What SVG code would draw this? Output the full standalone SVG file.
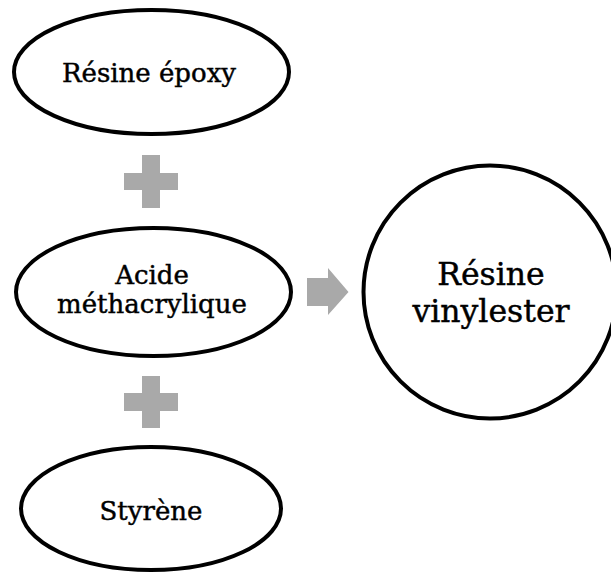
<svg xmlns="http://www.w3.org/2000/svg" width="611" height="575" viewBox="0 0 611 575">
<style>
.node{fill:#fff;stroke:#000;stroke-width:4}
.t{font-family:"DejaVu Serif","Liberation Serif",serif;fill:#000;stroke:#000;stroke-width:0.45;text-anchor:middle}
.s{font-size:26px}
.l{font-size:31.5px}
.op{fill:#a9a9a9}
</style>
<rect width="611" height="575" fill="#fff"/>
<g id="epoxy">
<ellipse class="node" cx="151.5" cy="72" rx="137.5" ry="62"/>
<text class="t s" x="149" y="82">Résine époxy</text>
</g>
<g id="acide">
<ellipse class="node" cx="153.5" cy="292" rx="137.5" ry="64"/>
<text class="t s" x="152" y="284">Acide</text>
<text class="t s" x="152" y="313">méthacrylique</text>
</g>
<g id="styrene">
<ellipse class="node" cx="151" cy="508.5" rx="130" ry="61.5"/>
<text class="t s" x="151" y="520">Styrène</text>
</g>
<g id="vinylester">
<circle class="node" cx="490" cy="292" r="126.5"/>
<text class="t l" x="491" y="285">Résine</text>
<text class="t l" x="491" y="322">vinylester</text>
</g>
<g id="connectors">
<path class="op" d="M142,155H160V173H178V190H160V208H142V190H124V173H142Z"/>
<path class="op" d="M142,376H160V393H178V411H160V428H142V411H124V393H142Z"/>
<path class="op" d="M307,278H328V268L348.5,292L328,315V306H307Z"/>
</g>
</svg>
